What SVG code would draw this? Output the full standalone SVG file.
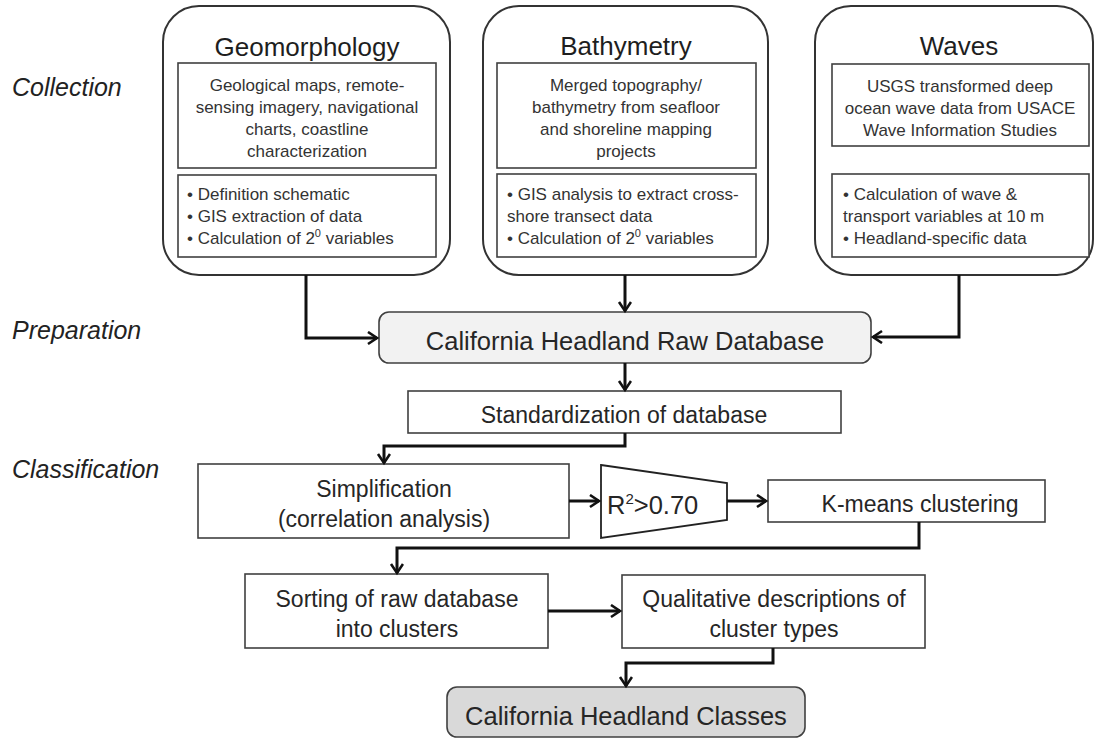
<svg xmlns="http://www.w3.org/2000/svg" width="1094" height="738" viewBox="0 0 1094 738">
<style>
text{font-family:"Liberation Sans",Arial,sans-serif;fill:#262626}
.lab{font-size:25px;font-style:italic;fill:#222}
.title{font-size:26px;text-anchor:middle;fill:#1e1e1e}
.body{font-size:17px;fill:#333}
.c{text-anchor:middle}
.big{font-size:25.5px;text-anchor:middle}
.mid{font-size:23px;text-anchor:middle}
.outer{fill:#fff;stroke:#333;stroke-width:2}
.box{fill:#fff;stroke:#404040;stroke-width:1.6}
.conn path{fill:none;stroke:#111;stroke-width:3;marker-end:url(#arr)}
</style>
<defs>
<marker id="arr" markerUnits="userSpaceOnUse" markerWidth="14" markerHeight="16" refX="10" refY="7" orient="auto" viewBox="0 0 14 16">
<path d="M1,1 L10,7 L1,13" fill="none" stroke="#111" stroke-width="2.6"/>
</marker>
</defs>
<rect width="1094" height="738" fill="#fff"/>
<g id="labels">
<text class="lab" x="12" y="96">Collection</text>
<text class="lab" x="12" y="339">Preparation</text>
<text class="lab" x="12" y="478">Classification</text>
</g>
<g id="geomorphology">
<rect class="outer" x="163" y="6" width="287" height="269" rx="36"/>
<text class="title" x="307" y="56">Geomorphology</text>
<rect class="box" x="178" y="63" width="258" height="105"/>
<text class="body c" x="307" y="91">Geological maps, remote-</text>
<text class="body c" x="307" y="113">sensing imagery, navigational</text>
<text class="body c" x="307" y="135">charts, coastline</text>
<text class="body c" x="307" y="157">characterization</text>
<rect class="box" x="178" y="175" width="258" height="82"/>
<text class="body" x="187" y="200">• Definition schematic</text>
<text class="body" x="187" y="222">• GIS extraction of data</text>
<text class="body" x="187" y="244">• Calculation of 2<tspan dy="-7" font-size="11">0</tspan><tspan dy="7"> variables</tspan></text>
</g>
<g id="bathymetry">
<rect class="outer" x="483" y="6" width="285" height="269" rx="36"/>
<text class="title" x="626" y="55">Bathymetry</text>
<rect class="box" x="497" y="63" width="259" height="105"/>
<text class="body c" x="626" y="91">Merged topography/</text>
<text class="body c" x="626" y="113">bathymetry from seafloor</text>
<text class="body c" x="626" y="135">and shoreline mapping</text>
<text class="body c" x="626" y="157">projects</text>
<rect class="box" x="497" y="174" width="259" height="83"/>
<text class="body" x="507" y="200">• GIS analysis to extract cross-</text>
<text class="body" x="507" y="222">shore transect data</text>
<text class="body" x="507" y="244">• Calculation of 2<tspan dy="-7" font-size="11">0</tspan><tspan dy="7"> variables</tspan></text>
</g>
<g id="waves">
<rect class="outer" x="815" y="6" width="278" height="269" rx="36"/>
<text class="title" x="959" y="55">Waves</text>
<rect class="box" x="832" y="64" width="257" height="82"/>
<text class="body c" x="960" y="92">USGS transformed deep</text>
<text class="body c" x="960" y="114">ocean wave data from USACE</text>
<text class="body c" x="960" y="136">Wave Information Studies</text>
<rect class="box" x="832" y="174" width="257" height="83"/>
<text class="body" x="843" y="200">• Calculation of wave &amp;</text>
<text class="body" x="843" y="222">transport variables at 10 m</text>
<text class="body" x="843" y="244">• Headland-specific data</text>
</g>
<g id="rawdb">
<rect x="379" y="312" width="492" height="51" rx="10" fill="#f2f2f2" stroke="#404040" stroke-width="1.6"/>
<text class="big" x="625" y="350">California Headland Raw Database</text>
</g>
<g id="standardization">
<rect class="box" x="408" y="391" width="433" height="42"/>
<text class="mid" x="624" y="423">Standardization of database</text>
</g>
<g id="simplification">
<rect class="box" x="198" y="464" width="371" height="74"/>
<text class="mid" x="384" y="497">Simplification</text>
<text class="mid" x="384" y="527">(correlation analysis)</text>
</g>
<g id="threshold">
<polygon points="601,465 727,483 727,520 601,538" fill="#fff" stroke="#222" stroke-width="1.8"/>
<text x="607" y="514" font-size="25.5px">R<tspan dy="-10" font-size="15">2</tspan><tspan dy="10">&gt;0.70</tspan></text>
</g>
<g id="kmeans">
<rect class="box" x="768" y="480" width="277" height="42"/>
<text class="mid" x="920" y="512">K-means clustering</text>
</g>
<g id="sorting">
<rect class="box" x="245" y="574" width="303" height="74"/>
<text class="mid" x="397" y="607">Sorting of raw database</text>
<text class="mid" x="397" y="637">into clusters</text>
</g>
<g id="qualitative">
<rect class="box" x="622" y="575" width="303" height="73"/>
<text class="mid" x="774" y="607">Qualitative descriptions of</text>
<text class="mid" x="774" y="637">cluster types</text>
</g>
<g id="classes">
<rect x="447" y="687" width="358" height="50" rx="10" fill="#d9d9d9" stroke="#404040" stroke-width="1.6"/>
<text class="big" x="626" y="725">California Headland Classes</text>
</g>
<g id="connectors" class="conn">
<path d="M306,275 V338 H377"/>
<path d="M625,275 V311"/>
<path d="M959,275 V337 H873"/>
<path d="M625,363 V390"/>
<path d="M625,433 V446 H384 V463"/>
<path d="M569,501 H599"/>
<path d="M727,501 H766"/>
<path d="M919,522 V548 H397 V573"/>
<path d="M548,611 H620"/>
<path d="M773,648 V663 H626 V686"/>
</g>
</svg>
